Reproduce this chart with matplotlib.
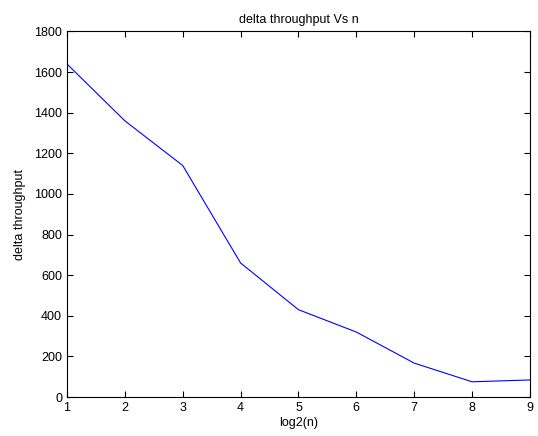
import matplotlib
matplotlib.use("Agg")
import matplotlib.pyplot as plt

# data
log2_n = [1, 2, 3, 4, 5, 6, 7, 8, 9]
delta_throughput = [1640, 1360, 1140, 660, 430, 320, 167, 75, 84]

x_ticks = [1, 2, 3, 4, 5, 6, 7, 8, 9]
y_ticks = [0, 200, 400, 600, 800, 1000, 1200, 1400, 1600, 1800]

plt.rcParams["font.family"] = ["Liberation Sans", "DejaVu Sans"]
plt.rcParams["font.size"] = 9

fig = plt.figure(figsize=(5.38, 4.36), dpi=100)
ax = fig.add_axes([0.1245, 0.0894, 0.8605, 0.8384])

ax.plot(log2_n, delta_throughput, color="blue", linewidth=0.8)

ax.set_xlim(1, 9)
ax.set_ylim(0, 1800)
ax.set_xticks(x_ticks)
ax.set_yticks(y_ticks)
ax.tick_params(direction="in", top=True, right=True, length=4, width=0.8, labelsize=9)
for s in ax.spines.values():
    s.set_linewidth(0.8)

ax.set_xlabel("log2(n)", fontsize=9, labelpad=2)
ax.set_ylabel("delta throughput", fontsize=9, labelpad=6)
ax.set_title("delta throughput Vs n", fontsize=9, pad=6)

fig.savefig("out.png", dpi=100)
